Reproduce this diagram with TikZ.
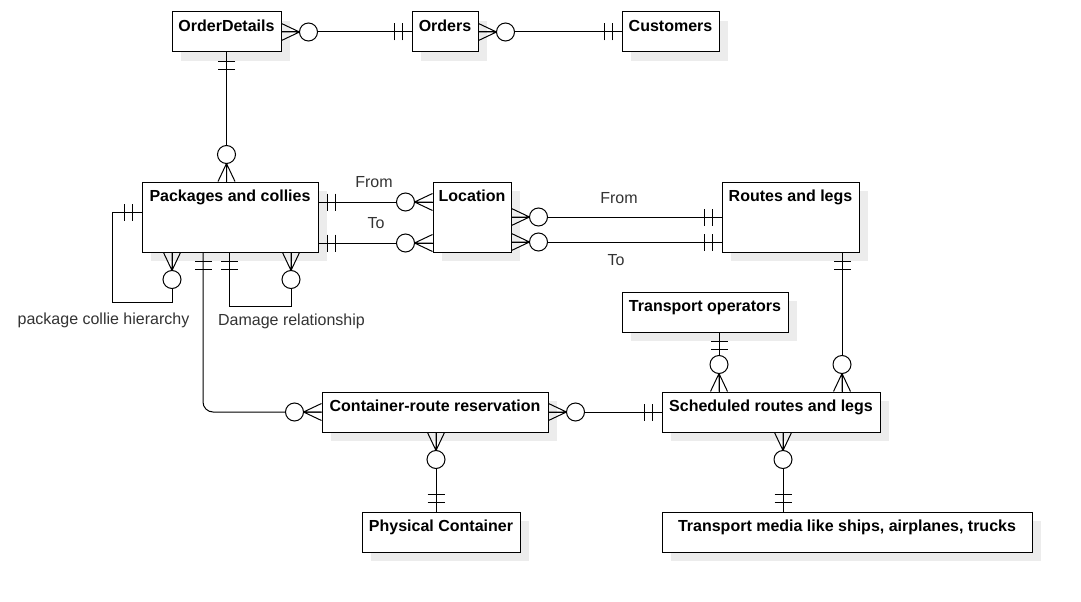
\documentclass[tikz,border=0pt]{standalone}
\usepackage{fontspec}
\setmainfont{Liberation Sans}
\usetikzlibrary{shadows,calc}
\definecolor{shgray}{RGB}{236,236,236}
\definecolor{lblgray}{RGB}{51,51,51}
\begin{document}
\begin{tikzpicture}[x=1pt,y=-1pt,
  ent/.style={draw, fill=white, line width=1pt, inner sep=0pt, text height=19.5pt,
    font=\fontsize{16}{19}\selectfont\bfseries,
    drop shadow={shadow xshift=9pt,shadow yshift=-9pt,fill=shgray,opacity=1}},
  h40/.style={text depth=20.5pt},
  h70/.style={text depth=50.5pt},
  conn/.style={line width=1pt},
  lbl/.style={font=\fontsize{16}{19}\selectfont, text=lblgray, inner sep=0pt, anchor=base},
  mone/.pic={\draw[conn] (9,-8.5) -- (9,8.5) (17,-8.5) -- (17,8.5);},
  zmany/.pic={\draw[conn] (0,-8.5) -- (18,0) -- (0,8.5) (0,0) -- (18,0);
              \draw[conn,fill=white] (27,0) circle[radius=9pt];}
]
\path[use as bounding box, fill=white] (0,0) rectangle (1081,602);

% entities
\node[ent,h40,minimum width=109pt] (od)    at (226.5,32) {OrderDetails};
\node[ent,h40,minimum width=66pt]  (ord)   at (445,32)   {Orders};
\node[ent,h40,minimum width=97pt]  (cust)  at (670.5,32) {Customers};
\node[ent,h70,minimum width=176pt] (pkg)   at (230,217)  {Packages and collies};
\node[ent,h70,minimum width=78pt]  (loc)   at (472,217)  {Location};
\node[ent,h70,minimum width=137pt] (rl)    at (790.5,217){Routes and legs};
\node[ent,h40,minimum width=166pt] (tops)  at (705,312)  {Transport operators};
\node[ent,h40,minimum width=226pt] (crr)   at (435,412)  {Container-route reservation};
\node[ent,h40,minimum width=218pt] (sched) at (771,412)  {Scheduled routes and legs};
\node[ent,h40,minimum width=158pt] (pc)    at (441,532)  {Physical Container};
\node[ent,h40,minimum width=370pt] (tm)    at (847,532)  {Transport media like ships, airplanes, trucks};

% connection points
\coordinate (p1) at ([yshift=15pt]pkg.east);
\coordinate (l1) at (p1 -| loc.west);
\coordinate (p2) at ([yshift=-26pt]pkg.east);
\coordinate (l2) at (p2 -| loc.west);
\coordinate (l3) at (loc.east);
\coordinate (r1) at (l3 -| rl.west);
\coordinate (l4) at ([yshift=-25pt]loc.east);
\coordinate (r2) at (l4 -| rl.west);
\coordinate (p3) at ([yshift=5pt]pkg.west);
\coordinate (p4) at ([xshift=-58pt]pkg.south);
\coordinate (p5) at ([xshift=-1pt]pkg.south);
\coordinate (p6) at ([xshift=61pt]pkg.south);
\coordinate (p7) at ([xshift=-27pt]pkg.south);
\coordinate (o1) at (od.south);
\coordinate (o2) at (o1 |- pkg.north);
\coordinate (c1) at ([xshift=1pt]crr.south);
\coordinate (c2) at (c1 |- pc.north);
\coordinate (t1) at ([xshift=14pt]tops.south);
\coordinate (t2) at (t1 |- sched.north);
\coordinate (r3) at ([xshift=51.5pt]rl.south);
\coordinate (r4) at (r3 |- sched.north);
\coordinate (s1) at ([xshift=12pt]sched.south);
\coordinate (s2) at (s1 |- tm.north);

% connectors
\draw[conn] (od.east) -- (ord.west);
\draw[conn] (ord.east) -- (cust.west);
\draw[conn] (o1) -- (o2);
\draw[conn] (p1) -- (l1);
\draw[conn] (p2) -- (l2);
\draw[conn] (l3) -- (r1);
\draw[conn] (l4) -- (r2);
\draw[conn] (p3) -- ++(-29,0) -- ++(0,90) -| (p4);
\draw[conn] (p5) -- ++(0,54) -| (p6);
\draw[conn,rounded corners=10pt] (p7) |- (crr.west);
\draw[conn] (crr.east) -- (sched.west);
\draw[conn] (c1) -- (c2);
\draw[conn] (t1) -- (t2);
\draw[conn] (r3) -- (r4);
\draw[conn] (s1) -- (s2);

% markers
\pic[rotate=0]   at (od.east)   {zmany};
\pic[rotate=180] at (ord.west)  {mone};
\pic[rotate=0]   at (ord.east)  {zmany};
\pic[rotate=180] at (cust.west) {mone};
\pic[rotate=-90] at (o1) {mone};
\pic[rotate=90]  at (o2) {zmany};
\pic[rotate=0]   at (p1) {mone};
\pic[rotate=180] at (l1) {zmany};
\pic[rotate=0]   at (p2) {mone};
\pic[rotate=180] at (l2) {zmany};
\pic[rotate=0]   at (l3) {zmany};
\pic[rotate=180] at (r1) {mone};
\pic[rotate=0]   at (l4) {zmany};
\pic[rotate=180] at (r2) {mone};
\pic[rotate=180] at (p3) {mone};
\pic[rotate=-90] at (p4) {zmany};
\pic[rotate=-90] at (p5) {mone};
\pic[rotate=-90] at (p6) {zmany};
\pic[rotate=-90] at (p7) {mone};
\pic[rotate=180] at (crr.west)  {zmany};
\pic[rotate=0]   at (crr.east)  {zmany};
\pic[rotate=180] at (sched.west){mone};
\pic[rotate=-90] at (c1) {zmany};
\pic[rotate=90]  at (c2) {mone};
\pic[rotate=-90] at (t1) {mone};
\pic[rotate=90]  at (t2) {zmany};
\pic[rotate=-90] at (r3) {mone};
\pic[rotate=90]  at (r4) {zmany};
\pic[rotate=-90] at (s1) {zmany};
\pic[rotate=90]  at (s2) {mone};

% labels
\node[lbl] (fromA) at (374,187.5) {From};
\node[lbl] (toA)   at (376,228.5) {To};
\node[lbl] (fromB) at (619,203.5) {From};
\node[lbl] (toB)   at (616,265.5) {To};
\node[lbl] (hier)  at (103.5,324) {package collie hierarchy};
\node[lbl] (dmg)   at (291.5,325) {Damage relationship};
\end{tikzpicture}
\end{document}
